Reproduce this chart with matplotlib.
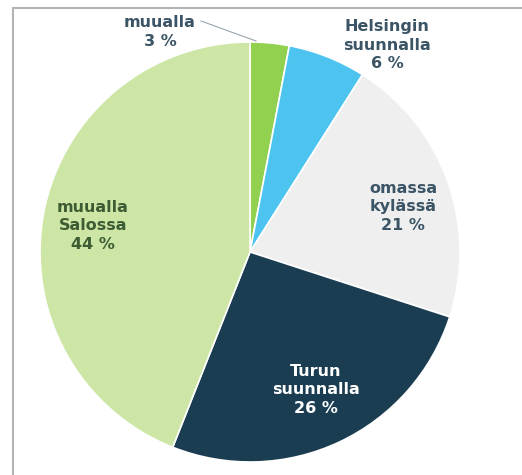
import matplotlib.pyplot as plt

# data
labels = ['muualla\n3 %', 'Helsingin\nsuunnalla\n6 %', 'omassa\nkylässä\n21 %',
          'Turun\nsuunnalla\n26 %', 'muualla\nSalossa\n44 %']
values = [3, 6, 21, 26, 44]
colors = ['#92d050', '#4dc3ef', '#efefef', '#1b3d52', '#cde6a6']
text_colors = ['#3b5566', '#3b5566', '#3b5566', '#ffffff', '#3d5c33']
# label positions in pixels (x, y from top)
label_pos = [(160, 32), (387, 45), (403, 207), (316, 390), (93, 226)]

W, H = 522, 475
fig = plt.figure(figsize=(W / 100, H / 100), dpi=100)
ax = fig.add_axes([0, 0, 1, 1])

cx, cy, r = 250, H - 252, 210
ax.pie(values, colors=colors, startangle=90, counterclock=False,
       center=(cx, cy), radius=r,
       wedgeprops=dict(edgecolor='white', linewidth=1.2))
ax.set_xlim(0, W)
ax.set_ylim(0, H)
ax.set_aspect('equal')
ax.axis('off')

for lab, (px, py), tc in zip(labels, label_pos, text_colors):
    ax.text(px, H - py, lab, ha='center', va='center', color=tc,
            fontsize=11.5, fontweight='bold', linespacing=1.3,
            family='DejaVu Sans')

# leader line for the small slice
ax.plot([201, 256], [H - 21, H - 41], color='#9aa5ad', lw=0.8)

# frame lines (top and left)
ax.plot([12.5, W], [H - 7.5, H - 7.5], color='#b4b4b4', lw=1.5)
ax.plot([12.5, 12.5], [0, H - 7.5], color='#b4b4b4', lw=1.5)

fig.savefig('out.png', dpi=100)
